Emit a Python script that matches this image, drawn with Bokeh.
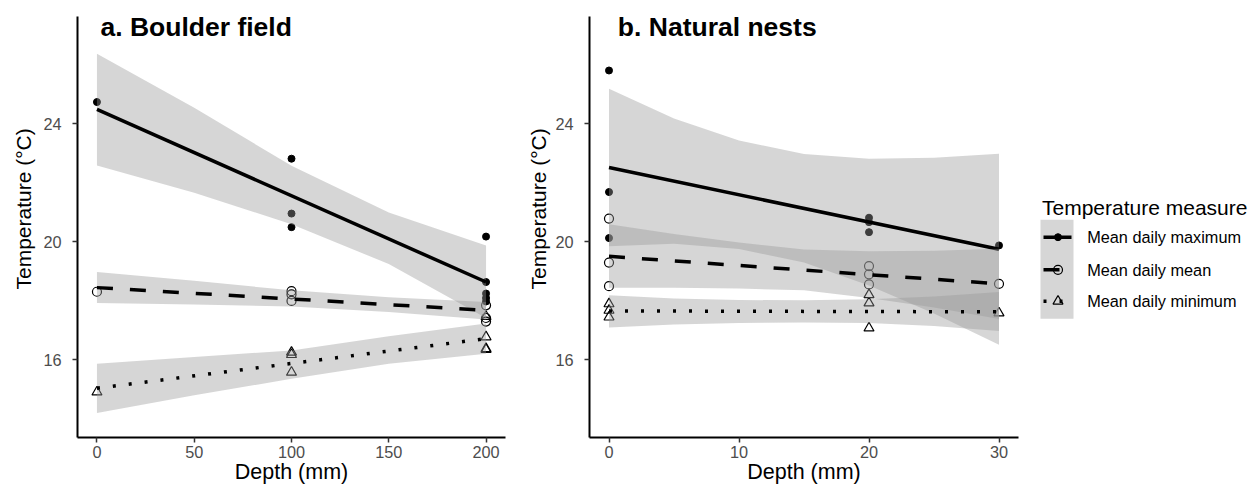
from bokeh.plotting import figure
from bokeh.models import Range1d, Label, FixedTicker, Title
from bokeh.layouts import row
from bokeh.embed import file_html
from bokeh.resources import INLINE
from bokeh.core.properties import value

FONT = "Liberation Sans"

# ---------------- Panel a: Boulder field ----------------
A_MAX_X = [0, 100, 100, 100, 200, 200, 200, 200, 200]
A_MAX_Y = [24.74, 22.82, 20.96, 20.50, 20.18, 18.64, 18.25, 18.10, 17.98]
A_MEAN_X = [0, 100, 100, 100, 200, 200, 200]
A_MEAN_Y = [18.31, 18.33, 18.22, 18.00, 17.85, 17.42, 17.30]
A_MIN_X = [0, 100, 100, 100, 200, 200, 200, 200]
A_MIN_Y = [14.91, 16.26, 16.18, 15.58, 17.47, 16.78, 16.38, 16.35]

A_FIT_X = [0, 200]
A_MAX_FIT = [24.49, 18.64]
A_MEAN_FIT = [18.45, 17.68]
A_MIN_FIT = [15.04, 16.72]

A_BAND_X = [0, 50, 100, 150, 200]
A_MAX_UP = [26.38, 24.55, 22.58, 21.00, 19.88]
A_MAX_LO = [22.59, 21.67, 20.60, 19.25, 17.42]
A_MEAN_UP = [18.98, 18.68, 18.36, 18.12, 17.96]
A_MEAN_LO = [17.93, 17.88, 17.81, 17.62, 17.37]
A_MIN_UP = [15.87, 16.10, 16.32, 16.80, 17.23]
A_MIN_LO = [14.20, 14.80, 15.36, 15.87, 16.21]

# ---------------- Panel b: Natural nests ----------------
B_MAX_X = [0, 0, 0, 20, 20, 20, 30]
B_MAX_Y = [25.81, 21.69, 20.13, 20.82, 20.67, 20.33, 19.88]
B_MEAN_X = [0, 0, 0, 20, 20, 20, 30]
B_MEAN_Y = [20.79, 19.30, 18.50, 19.18, 18.90, 18.56, 18.58]
B_MIN_X = [0, 0, 0, 20, 20, 20, 30]
B_MIN_Y = [17.90, 17.68, 17.45, 18.21, 17.93, 17.08, 17.59]

B_FIT_X = [0, 30]
B_MAX_FIT = [22.52, 19.75]
B_MEAN_FIT = [19.51, 18.58]
B_MIN_FIT = [17.66, 17.63]

B_BAND_X = [0, 5, 10, 15, 20, 25, 30]
B_MAX_UP = [25.19, 24.18, 23.44, 22.98, 22.82, 22.85, 22.99]
B_MAX_LO = [19.85, 19.94, 19.76, 19.30, 18.52, 17.57, 16.51]
B_MEAN_UP = [20.60, 20.27, 19.98, 19.74, 19.68, 19.70, 19.77]
B_MEAN_LO = [18.45, 18.45, 18.42, 18.36, 18.10, 17.78, 17.39]
B_MIN_UP = [18.19, 18.08, 18.03, 18.02, 18.06, 18.15, 18.30]
B_MIN_LO = [17.10, 17.20, 17.25, 17.27, 17.25, 17.15, 16.98]

Y_TICKS = [16, 20, 24]
A_X_TICKS = [0, 50, 100, 150, 200]
B_X_TICKS = [0, 10, 20, 30]

X_LABEL = "Depth (mm)"
Y_LABEL = "Temperature (°C)"
LEGEND_TITLE = "Temperature measure"
LEGEND_LABELS = ["Mean daily maximum", "Mean daily mean", "Mean daily minimum"]

H = 489
Y_RANGE = (13.37, 27.64)
LW = 3.5
BAND = dict(fill_color="#999999", fill_alpha=0.4)


def panel(width, mbl, mbr, xr, xticks, title, title_x, ylab_standoff):
    p = figure(width=width, height=H, x_range=Range1d(*xr), y_range=Range1d(*Y_RANGE),
               output_backend="svg", toolbar_location=None,
               min_border_left=mbl, min_border_right=mbr, min_border_top=16, min_border_bottom=52)
    p.outline_line_color = None
    p.xgrid.visible = False
    p.ygrid.visible = False
    p.background_fill_color = "white"
    p.border_fill_color = "white"
    p.xaxis.ticker = FixedTicker(ticks=xticks)
    p.yaxis.ticker = FixedTicker(ticks=Y_TICKS)
    for ax in (p.xaxis[0], p.yaxis[0]):
        ax.axis_line_color = "black"
        ax.axis_line_width = 2
        ax.major_tick_line_color = "#333333"
        ax.major_tick_line_width = 1.5
        ax.major_tick_out = 5
        ax.major_tick_in = 0
        ax.minor_tick_line_color = None
        ax.major_label_text_font = FONT
        ax.major_label_text_font_size = "16.3px"
        ax.major_label_text_color = "#4D4D4D"
        ax.axis_label_text_font = FONT
        ax.axis_label_text_font_size = "21.5px"
        ax.axis_label_text_font_style = "normal"
        ax.axis_label_text_color = "black"
    p.xaxis.axis_label = X_LABEL
    p.xaxis.major_label_standoff = 3
    p.xaxis.axis_label_standoff = -1
    p.yaxis.major_label_standoff = 11
    # y-axis title as a side title, shifted up the panel like the reference
    p.add_layout(Title(text=Y_LABEL, align="left", offset=148, text_font=FONT,
                       text_font_size="21px", text_font_style="normal", text_color="black",
                       standoff=ylab_standoff), "left")
    p.add_layout(Label(x=title_x, y=27.27, text=title, text_font=FONT, text_font_size="26.5px",
                       text_font_style="bold", text_baseline="alphabetic", text_align="left",
                       text_color="black"))
    return p


def draw(p, mx, my, ex, ey, nx, ny, fx, fmax, fmean, fmin, bx, bands):
    p.scatter(mx, my, marker="circle", size=7, fill_color="black", line_color="black")
    p.scatter(ex, ey, marker="circle", size=9, fill_color=None, line_color="black", line_width=1.2)
    p.scatter(nx, ny, marker="triangle", size=10, fill_color=None, line_color="black", line_width=1.2)
    (mu, ml), (eu, el), (nu, nl) = bands
    p.varea(x=bx, y1=ml, y2=mu, **BAND)
    p.line(fx, fmax, line_color="black", line_width=LW)
    p.varea(x=bx, y1=el, y2=eu, **BAND)
    p.line(fx, fmean, line_color="black", line_width=LW, line_dash="16 17")
    p.varea(x=bx, y1=nl, y2=nu, **BAND)
    p.line(fx, fmin, line_color="black", line_width=LW, line_dash="3 13")


pa = panel(520, 77, 15, (-10, 210), A_X_TICKS, "a. Boulder field", 1.8, 12)
draw(pa, A_MAX_X, A_MAX_Y, A_MEAN_X, A_MEAN_Y, A_MIN_X, A_MIN_Y,
     A_FIT_X, A_MAX_FIT, A_MEAN_FIT, A_MIN_FIT, A_BAND_X,
     [(A_MAX_UP, A_MAX_LO), (A_MEAN_UP, A_MEAN_LO), (A_MIN_UP, A_MIN_LO)])

pb = panel(510, 69, 12, (-1.5, 31.5), B_X_TICKS, "b. Natural nests", 0.68, 6)
draw(pb, B_MAX_X, B_MAX_Y, B_MEAN_X, B_MEAN_Y, B_MIN_X, B_MIN_Y,
     B_FIT_X, B_MAX_FIT, B_MEAN_FIT, B_MIN_FIT, B_BAND_X,
     [(B_MAX_UP, B_MAX_LO), (B_MEAN_UP, B_MEAN_LO), (B_MIN_UP, B_MIN_LO)])

# ---------------- Legend (its frame is aligned with the panels: page y 16..437) ----------------
LW_W = 223
pl = figure(width=LW_W, height=H, x_range=Range1d(0, LW_W), y_range=Range1d(437, 16),
            output_backend="svg", toolbar_location=None, x_axis_type=None, y_axis_type=None,
            min_border_left=0, min_border_right=0, min_border_top=16, min_border_bottom=52)
pl.outline_line_color = None
pl.xgrid.visible = False
pl.ygrid.visible = False
pl.text(x=[11.5], y=[206.7], text=[LEGEND_TITLE], text_font=value(FONT), text_font_size="21px",
        text_baseline="alphabetic", text_align="left", text_color="black")
pl.quad(left=[10], right=[43], top=[219.3], bottom=[318.3], fill_color="#999999", fill_alpha=0.4,
        line_color=None)
key_y = [236.7, 269.3, 300.7]
pl.line([13, 41], [key_y[0], key_y[0]], line_color="black", line_width=LW)
pl.scatter([27.5], [key_y[0]], marker="circle", size=7, fill_color="black", line_color="black")
pl.line([13, 41], [key_y[1], key_y[1]], line_color="black", line_width=LW, line_dash="16 17")
pl.scatter([27.5], [key_y[1]], marker="circle", size=9, fill_color=None, line_color="black", line_width=1.2)
pl.line([13, 41], [key_y[2], key_y[2]], line_color="black", line_width=LW, line_dash="3 13")
pl.scatter([27.5], [key_y[2]], marker="triangle", size=10, fill_color=None, line_color="black", line_width=1.2)
pl.text(x=[56.7] * 3, y=key_y, text=LEGEND_LABELS, text_font=value(FONT), text_font_size="16.3px",
        text_baseline="middle", text_align="left", text_color="black")

layout = row(pa, pb, pl)
open("out.html", "w").write(file_html(layout, INLINE))
